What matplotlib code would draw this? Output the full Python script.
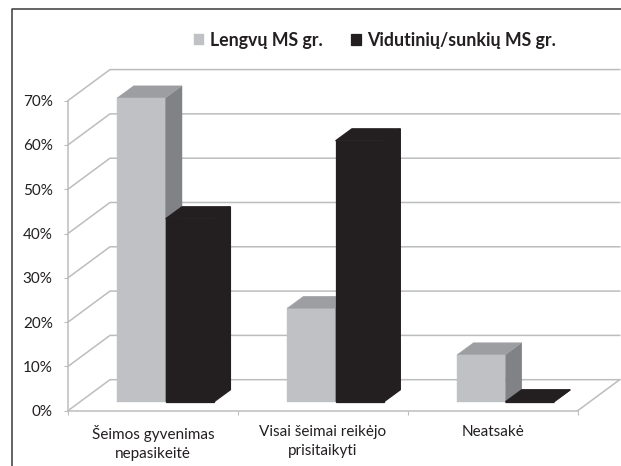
import matplotlib
matplotlib.use("Agg")
import matplotlib.pyplot as plt
from matplotlib.lines import Line2D
from matplotlib.patches import Polygon

plt.rcParams["font.family"] = ["Lato", "Noto Sans", "DejaVu Sans"]

categories = ["Šeimos gyvenimas\nnepasikeitė", "Visai šeimai reikėjo\nprisitaikyti", "Neatsakė"]
lengvu = [68.6, 21.1, 10.6]
vidutiniu = [41.3, 58.9, 0.0]
yticks = [0, 10, 20, 30, 40, 50, 60, 70]
series_names = ["Lengvų MS gr.", "Vidutinių/sunkių MS gr."]

W, H = 621, 466
GRID = "#bcbdbf"
TEXT = "#231f20"

# depth of the fake 3d box, in data units
wall_dx, wall_dy = 0.247, 7.0
bar_dx, bar_dy = 0.096, 2.7
base = 2.03
width = 0.285
centers = [0.575, 1.575, 2.575]


def draw_bars(ax, xs, values, front, top, side, label, lw):
    ax.bar(xs, values, width, bottom=base, color=front, edgecolor=front, linewidth=lw, zorder=3,
           label=label, clip_on=False)
    for x, v in zip(xs, values):
        x0, x1 = x - width / 2, x + width / 2
        y0, y1 = base, base + v
        ax.add_patch(Polygon([(x1, y0), (x1 + bar_dx, y0 + bar_dy), (x1 + bar_dx, y1 + bar_dy), (x1, y1)],
                             facecolor=side, edgecolor=side, linewidth=lw, zorder=3, clip_on=False))
        ax.add_patch(Polygon([(x0, y1), (x0 + bar_dx, y1 + bar_dy), (x1 + bar_dx, y1 + bar_dy), (x1, y1)],
                             facecolor=top, edgecolor=top, linewidth=lw, zorder=3, clip_on=False))


fig = plt.figure(figsize=(W / 100, H / 100), dpi=100)
ax = fig.add_axes([68 / W, 1 - 410.7 / H, (577.7 - 68) / W, (410.7 - 100.6) / H])
ax.set_xlim(0, 3)
ax.set_ylim(0, 70)
ax.patch.set_alpha(0)

# back wall and floor lines
for t in yticks:
    ax.plot([0, wall_dx, 3 + wall_dx], [t, t + wall_dy, t + wall_dy], color=GRID, lw=1.1, zorder=1, clip_on=False)
ax.plot([3, 3 + wall_dx], [0, wall_dy], color=GRID, lw=1.1, zorder=1, clip_on=False)

light_x = [c - width / 2 for c in centers]
dark_x = [c + width / 2 for c in centers]
draw_bars(ax, light_x, lengvu, "#c0c1c4", "#9d9ea1", "#808285", series_names[0], 0.3)
draw_bars(ax, dark_x, vidutiniu, "#231f20", "#231f20", "#231f20", series_names[1], 0.9)

for s in ["top", "right"]:
    ax.spines[s].set_visible(False)
for s in ["left", "bottom"]:
    ax.spines[s].set_color(GRID)
    ax.spines[s].set_linewidth(1.1)

ax.set_yticks(yticks)
ax.set_yticklabels([f"{t}%" for t in yticks], fontsize=11, color=TEXT)
ax.tick_params(axis="y", length=3, color=GRID, pad=8)
ax.set_xticks([0, 1, 2, 3])
ax.set_xticklabels([])
ax.tick_params(axis="x", which="major", length=3, color=GRID)
ax.set_xticks([0.5, 1.5, 2.5], minor=True)
ax.set_xticklabels(categories, minor=True, fontsize=11, color=TEXT, linespacing=1.45)
ax.tick_params(axis="x", which="minor", length=0, pad=10.5)

leg = fig.legend(loc="upper left", bbox_to_anchor=(178 / W, 1 - 16 / H), ncol=2, frameon=False,
                 prop={"weight": "bold", "size": 12.8}, labelcolor=TEXT, handlelength=0.56, handleheight=0.56,
                 handletextpad=0.34, columnspacing=1.6)

# outer frame, open on the right and bottom
fig.add_artist(Line2D([12 / W, 12 / W, 1], [0, 1 - 9 / H, 1 - 9 / H], color="#3a3a3a", lw=1.1))

fig.savefig("out.png", dpi=100)
